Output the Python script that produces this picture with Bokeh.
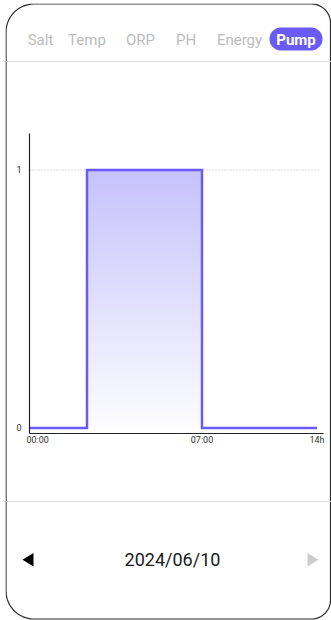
import numpy as np
from bokeh.plotting import figure
from bokeh.models import Range1d
from bokeh.embed import file_html
from bokeh.resources import INLINE
from bokeh.core.properties import value

# ---------------- data ----------------
tabs = ["Salt", "Temp", "ORP", "PH", "Energy", "Pump"]
active_tab = "Pump"
date_label = "2024/06/10"
x_index = [0, 1, 2, 3, 4, 5]
pump_state = [0, 1, 1, 0, 0, 0]
x_tick_pos = [0, 3, 5]
x_tick_labels = ["00:00", "07:00", "14h"]
y_tick_pos = [0, 1]
y_tick_labels = ["0", "1"]

# ---------------- layout (page pixels) ----------------
OX, OY = 5, 3          # figure origin on page
W, H = 326, 617
X0_PX, X5_PX = 29.0, 316.5     # data x 0 / 5
Y0_PX, Y1_PX = 427.5, 169.5    # data y 0 / 1
sx = (X5_PX - X0_PX) / (x_index[-1] - x_index[0])
sy = (Y0_PX - Y1_PX)

xr = Range1d(x_index[0] - (X0_PX - OX) / sx, x_index[0] + (OX + W - X0_PX) / sx)
yr = Range1d(-(OY + H - Y0_PX) / sy, (Y0_PX - OY) / sy)

p = figure(width=W, height=H, x_range=xr, y_range=yr,
           x_axis_type=None, y_axis_type=None, min_border=0,
           toolbar_location=None, output_backend="svg",
           outline_line_color=None, background_fill_color="white",
           border_fill_color="white")
p.styles = {"margin-left": "5px", "margin-top": "3px", "margin-bottom": "-8px"}
p.extra_x_ranges = {"px": Range1d(OX, OX + W)}
p.extra_y_ranges = {"px": Range1d(OY + H, OY)}

FONT = "Roboto"


def rrect(x0, y0, x1, y1, rl, rr, n=16):
    xs, ys = [], []
    def arc(cx, cy, r, a0, a1):
        for t in np.linspace(a0, a1, n):
            xs.append(cx + r * np.cos(t))
            ys.append(cy + r * np.sin(t))
    arc(x0 + rl, y0 + rl, rl, np.pi, 1.5 * np.pi)
    arc(x1 - rr, y0 + rr, rr, 1.5 * np.pi, 2 * np.pi)
    arc(x1 - rr, y1 - rr, rr, 0, 0.5 * np.pi)
    arc(x0 + rl, y1 - rl, rl, 0.5 * np.pi, np.pi)
    return xs, ys

# frame
fx, fy = rrect(5.5, 3.5, 330, 618.5, 28, 19)
p.patch(fx, fy, fill_color=None, line_color="#2b2b2b", line_width=1.2,
        x_range_name="px", y_range_name="px")

# separators
p.segment(x0=[5.5, 5.5], y0=[61, 501], x1=[331, 331], y1=[61, 501],
          line_color="#e0e0e0", line_width=1.2, x_range_name="px", y_range_name="px")

# tabs
tab_cx = [40, 86.5, 140, 185.5, 239, 295.5]
inactive = [i for i, t in enumerate(tabs) if t != active_tab]
act = tabs.index(active_tab)
p.text(x=[tab_cx[i] for i in inactive], y=[39] * len(inactive),
       text=[tabs[i] for i in inactive], text_align="center", text_baseline="middle",
       text_font=value(FONT), text_font_size="15px", text_color="#bcbcbc",
       x_range_name="px", y_range_name="px")
px_, py_ = rrect(269, 27, 322, 50, 11.5, 11.5)
p.patch(px_, py_, fill_color="#6a5af6", line_color=None,
        x_range_name="px", y_range_name="px")
p.text(x=[tab_cx[act]], y=[39], text=[tabs[act]], text_align="center",
       text_baseline="middle", text_font=value(FONT), text_font_size="15px",
       text_font_style="bold", text_color="white",
       x_range_name="px", y_range_name="px")

# gradient fill under contiguous "on" runs
runs = []
i = 0
while i < len(x_index) - 1:
    if pump_state[i] > 0:
        j = i
        while j < len(x_index) - 1 and pump_state[j] == pump_state[i]:
            j += 1
        runs.append((x_index[i], x_index[j], pump_state[i]))
        i = j
    else:
        i += 1

N = 80
top_c = np.array([198, 194, 252])
bot_c = np.array([253, 253, 255])
for left, right, h in runs:
    bottoms = np.linspace(0, h, N, endpoint=False)
    tops = bottoms + h / N * 1.3
    tops[-1] = h
    fr = (bottoms + h / (2 * N)) / h
    cols = ["#%02x%02x%02x" % tuple((bot_c + (top_c - bot_c) * f).astype(int)) for f in fr]
    p.quad(left=left, right=right, bottom=bottoms, top=tops,
           fill_color=cols, line_color=None)

# grid line at 1
p.segment(x0=[x_index[0]], y0=[y_tick_pos[-1]], x1=[x_index[-1] + 0.03], y1=[y_tick_pos[-1]],
          line_color="#b5b5b5", line_width=1, line_dash="1 2")

# step line
p.step(x=x_index, y=pump_state, mode="after", line_color="#6a5af6", line_width=2.5,
       line_join="miter")

# axes lines
p.segment(x0=[29, 29], y0=[133, 433], x1=[29, 323], y1=[433, 433],
          line_color="#222222", line_width=1.2, x_range_name="px", y_range_name="px")

# y tick labels
p.text(x=[21] * len(y_tick_pos), y=y_tick_pos, text=y_tick_labels, text_align="right",
       text_baseline="middle", text_font=value(FONT), text_font_size="9px",
       text_color="#333333", y_offset=-1, x_range_name="px")

# x tick labels
p.text(x=x_tick_pos[:1], y=[439], text=x_tick_labels[:1], text_align="left",
       text_baseline="middle", text_font=value(FONT), text_font_size="9px",
       text_color="#333333", x_offset=-3, y_range_name="px")
p.text(x=x_tick_pos[1:], y=[439] * (len(x_tick_pos) - 1), text=x_tick_labels[1:],
       text_align="center", text_baseline="middle", text_font=value(FONT),
       text_font_size="9px", text_color="#333333", y_range_name="px")

# bottom navigation
p.patch([33, 33, 22], [552.5, 566, 559.2], fill_color="black", line_color=None,
        x_range_name="px", y_range_name="px")
p.patch([307, 307, 318], [552.5, 566, 559.2], fill_color="#cccccc", line_color=None,
        x_range_name="px", y_range_name="px")
p.text(x=[172], y=[559], text=[date_label], text_align="center", text_baseline="middle",
       text_font=value(FONT), text_font_size="18px", text_color="#1a1a1a",
       x_range_name="px", y_range_name="px")

open("out.html", "w").write(file_html(p, INLINE))
